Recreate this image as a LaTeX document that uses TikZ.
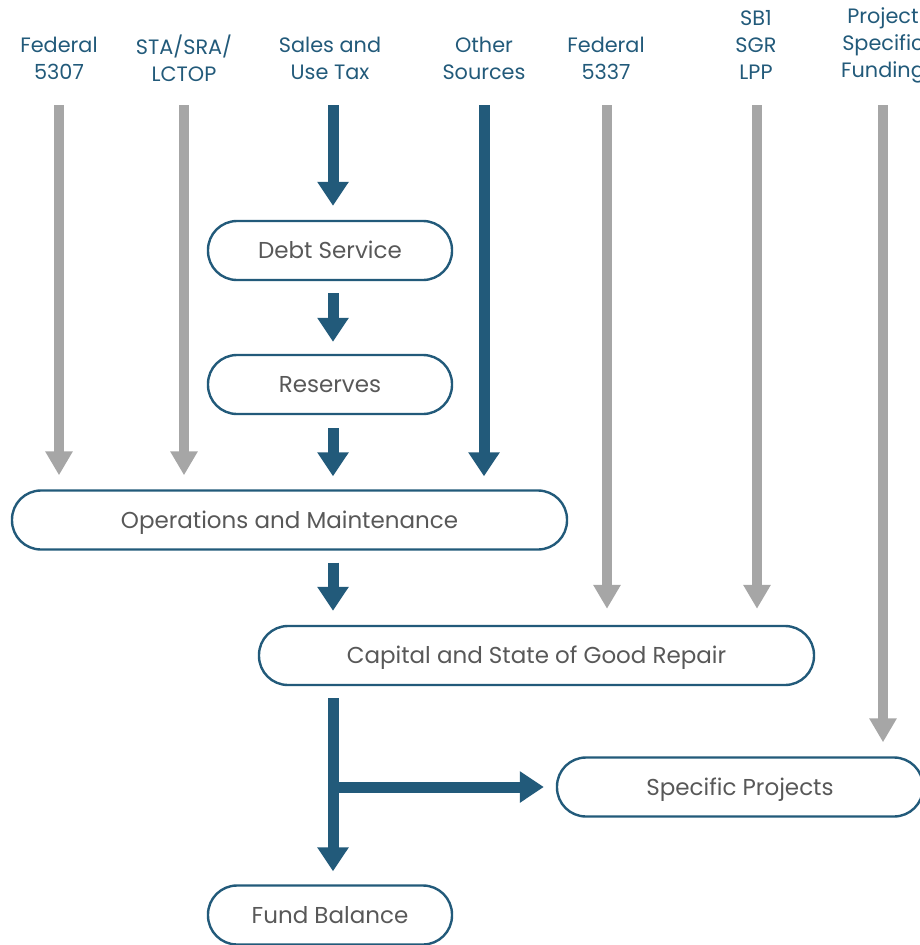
\documentclass[tikz,border=0pt]{standalone}
\usepackage{fontspec}
\setmainfont{Poppins}
\usetikzlibrary{arrows.meta}
\definecolor{cblue}{HTML}{225A7A}
\definecolor{cgray}{HTML}{A6A6A6}
\definecolor{ctext}{HTML}{585858}
\begin{document}
\begin{tikzpicture}[x=1pt,y=-1pt,
  hdr/.style={text=cblue, font=\fontsize{20.8}{27}\selectfont, align=center, inner sep=0pt},
  box/.style={draw=cblue, line width=2.4pt, rounded corners=29pt, text=ctext, font=\fontsize{23}{27}\selectfont, minimum height=59pt, text height=16pt, text depth=0pt, inner sep=0pt},
  garrow/.style={draw=cgray, line width=10pt, -{Triangle[width=26pt,length=24pt]}},
  barrow/.style={draw=cblue, line width=11pt, -{Triangle[width=30pt,length=24pt]}},
]
\useasboundingbox (0,0) rectangle (920,945);
\clip (0,0) rectangle (920,945);

% headers
\node[hdr] (h1) at (59,58) {Federal\\5307};
\node[hdr] (h2) at (184,58) {STA/SRA/\\LCTOP};
\node[hdr] (h3) at (330,58) {Sales and\\Use Tax};
\node[hdr] (h4) at (484,58) {Other\\Sources};
\node[hdr] (h5) at (606,58) {Federal\\5337};
\node[hdr] (h6) at (756,45) {SB1\\SGR\\LPP};
\node[hdr] (h7) at (883,45) {Project\\Specific\\Funding};

% boxes
\node[box, minimum width=244pt] (ds) at (330,250.5) {Debt Service};
\node[box, minimum width=244pt] (rs) at (330,384.5) {Reserves};
\node[box, minimum width=555pt] (om) at (289.5,520) {Operations and Maintenance};
\node[box, minimum width=555pt] (cap) at (536.5,655.5) {Capital and State of Good Repair};
\node[box, minimum width=366pt] (sp) at (740,787) {Specific Projects};
\node[box, minimum width=244pt] (fb) at (330,915) {Fund Balance};

% start points of the source arrows
\coordinate (s1) at (59,105);
\coordinate (s2) at (184,105);
\coordinate (s3) at (333,105);
\coordinate (s4) at (484,105);
\coordinate (s5) at (607,105);
\coordinate (s6) at (757,105);
\coordinate (s7) at (883,105);
\coordinate (br) at (333,787);

% gray arrows
\draw[garrow, shorten >=14pt] (s1) -- (s1 |- om.north);
\draw[garrow, shorten >=14pt] (s2) -- (s2 |- om.north);
\draw[garrow, shorten >=16pt] (s5) -- (s5 |- cap.north);
\draw[garrow, shorten >=16pt] (s6) -- (s6 |- cap.north);
\draw[garrow, shorten >=14pt] (s7) -- (s7 |- sp.north);

% blue arrows
\draw[barrow, shorten >=14pt] (s3) -- (s3 |- ds.north);
\draw[barrow, shorten <=12pt, shorten >=12pt] (ds.south -| s3) -- (rs.north -| s3);
\draw[barrow, shorten <=13pt, shorten >=13pt] (rs.south -| s3) -- (om.north -| s3);
\draw[barrow, shorten >=13pt] (s4) -- (s4 |- om.north);
\draw[barrow, shorten <=12pt, shorten >=14pt] (om.south -| s3) -- (cap.north -| s3);
\draw[barrow, shorten <=12pt, shorten >=13pt] (cap.south -| s3) -- (fb.north -| s3);
\draw[barrow, shorten >=12pt] (br) -- (sp.west);
\end{tikzpicture}
\end{document}
